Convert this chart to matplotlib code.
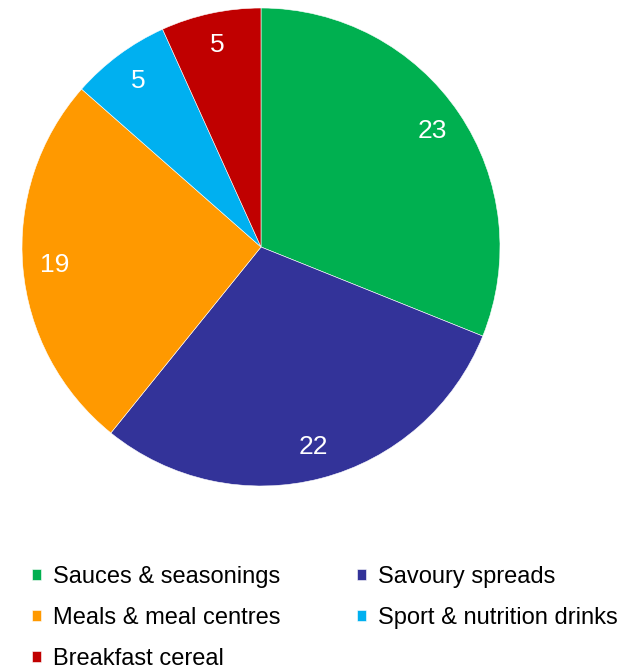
import matplotlib.pyplot as plt

plt.rcParams['font.family'] = ['Liberation Sans', 'DejaVu Sans']

categories = ['Sauces & seasonings', 'Savoury spreads', 'Meals & meal centres',
              'Sport & nutrition drinks', 'Breakfast cereal']
values = [23, 22, 19, 5, 5]
colors = ['#00B050', '#333399', '#FF9900', '#00B0F0', '#C00000']

W, H = 639, 670
fig = plt.figure(figsize=(W / 100, H / 100), dpi=100)

# pie area in pixel terms: centre (261, 247), radius 239
cx, cy, r = 261, 247, 239
ax = fig.add_axes([(cx - r) / W, 1 - (cy + r) / H, 2 * r / W, 2 * r / H])

wedges, texts = ax.pie(values, colors=colors, startangle=90, counterclock=False,
                       labels=[str(v) for v in values], labeldistance=0.866,
                       wedgeprops=dict(edgecolor='white', linewidth=0.4),
                       textprops=dict(color='white', fontsize=19))
for t in texts:
    t.set_ha('center')
    t.set_va('center')
ax.set_xlim(-1, 1)
ax.set_ylim(-1, 1)
ax.set_aspect('equal')

# legend fills column-wise, so reorder for row-wise reading
order = [0, 2, 4, 1, 3]
fig.legend([wedges[i] for i in order], [categories[i] for i in order],
           loc='upper left', bbox_to_anchor=(32 / W, 1 - 566 / H),
           ncol=2, frameon=False, fontsize=17,
           handlelength=0.37, handleheight=0.37, handletextpad=0.5,
           labelspacing=0.8, columnspacing=3.27, borderaxespad=0,
           borderpad=0)

fig.savefig('out.png', dpi=100)
